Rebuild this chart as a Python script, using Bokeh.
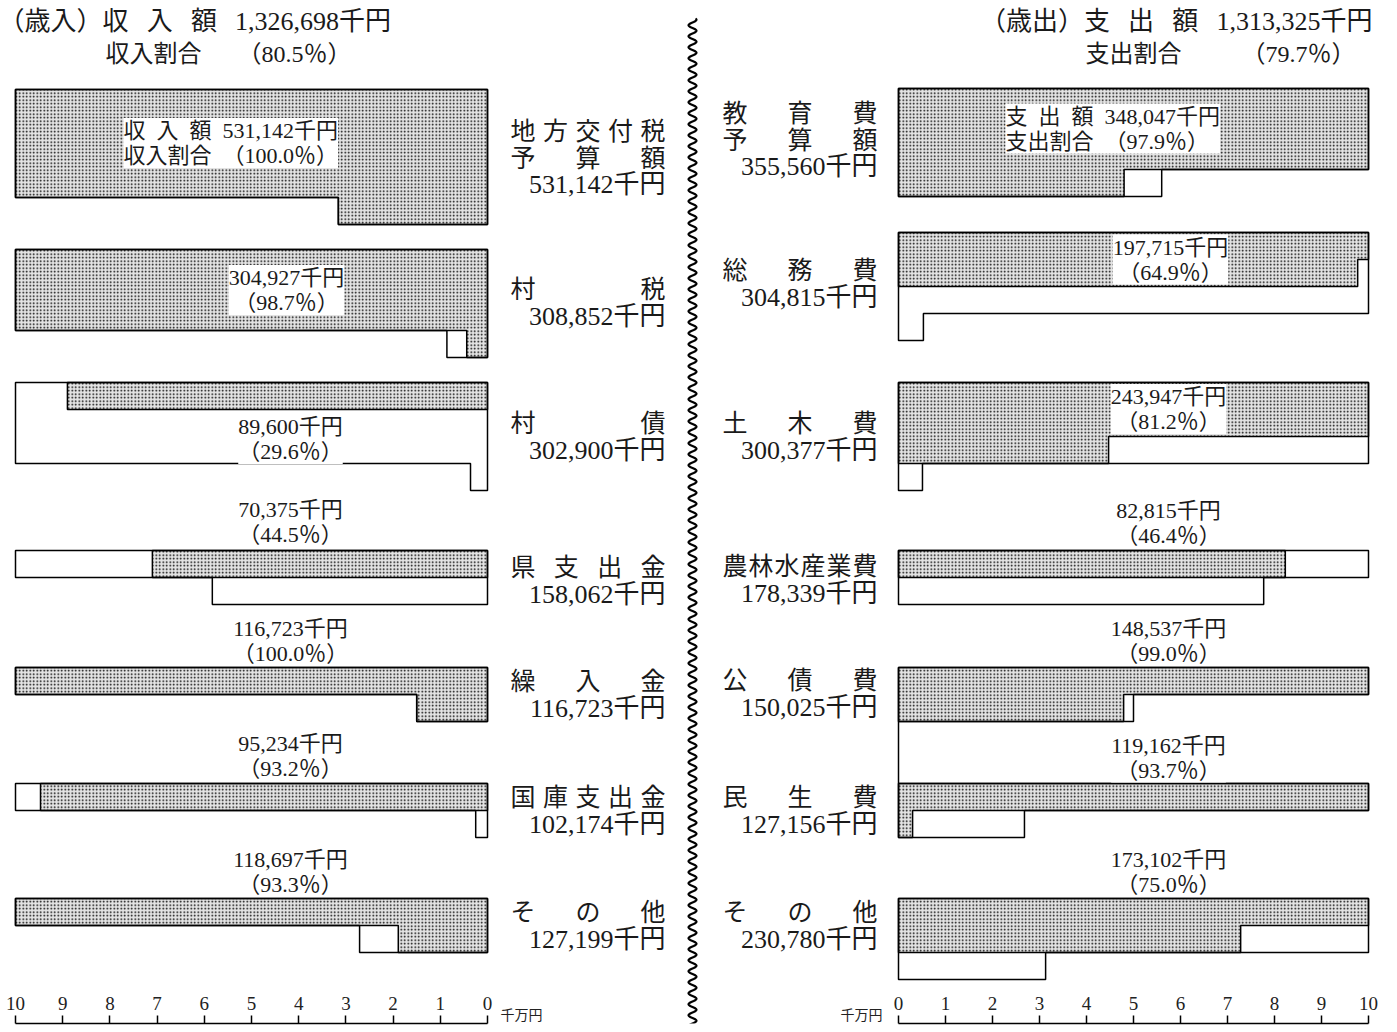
import numpy as np
from bokeh.plotting import figure
from bokeh.models import Range1d, LinearAxis, FixedTicker, ColumnDataSource
from bokeh.layouts import row
from bokeh.embed import file_html
from bokeh.resources import INLINE
from bokeh.core.properties import value

# ---------------- data ----------------
rev_names = ["地方交付税", "村税", "村債", "県支出金", "繰入金", "国庫支出金", "その他"]
rev_budget = [531142, 308852, 302900, 158062, 116723, 102174, 127199]   # 千円 (予算額)
rev_actual = [531142, 304927, 89600, 70375, 116723, 95234, 118697]      # 千円 (収入額)
rev_pct = [100.0, 98.7, 29.6, 44.5, 100.0, 93.2, 93.3]
# bar lengths as drawn in the picture (千万円, rows of 10)
rev_budget_bar = [43.16, 30.86, 30.36, 15.83, 11.5, 10.25, 12.71]
rev_actual_bar = [43.16, 30.44, 8.9, 7.1, 11.5, 9.47, 11.89]

exp_names = ["教育費", "総務費", "土木費", "農林水産業費", "公債費", "民生費", "その他"]
exp_budget = [355560, 304815, 300377, 178339, 150025, 127156, 230780]   # 千円 (予算額)
exp_actual = [348047, 197715, 243947, 82815, 148537, 119162, 173102]    # 千円 (支出額)
exp_pct = [97.9, 64.9, 81.2, 46.4, 99.0, 93.7, 75.0]
exp_budget_bar = [35.6, 30.53, 30.51, 17.77, 15.0, 12.68, 23.13]
exp_actual_bar = [34.8, 19.77, 24.47, 8.23, 14.79, 10.3, 17.28]

rev_total, rev_total_pct = 1326698, 80.5
exp_total, exp_total_pct = 1313325, 79.7
axis_ticks = list(range(0, 11))
axis_unit = "千万円"

# ---------------- layout constants ----------------
H = 1032
FRAME_H = 1023
LW, RW = 698, 699
L_ZERO, R_ZERO = 487, 898          # page x of value 0
L_PX, R_PX = 47.2, 47.0            # px per 千万円
RH = 27                            # row height (px)
FONT = "Liberation Serif, Noto Sans CJK JP"
INK = "#1a1a1a"

def lx(px):
    return (L_ZERO - px) / L_PX

def rx(px):
    return (px - R_ZERO) / R_PX

rev_tops = [89, 249, 382, 550, 667, 783, 898]
exp_tops = [88, 232, 382, 550, 667, 783, 898]
rev_cat_y = [131, 289, 423, 567, 681, 797, 912]
exp_cat_y = [113, 270, 423, 566, 680, 797, 912]
rev_val_pos = [(123, 142.5), (286, 289.5), (290, 438.5), (290, 521.5), (290, 640.5), (290, 755), (290, 871.5)]
exp_val_pos = [(1005, 128), (1170, 259), (1168, 408.5), (1168, 522.5), (1168, 640), (1168, 757), (1168, 871.5)]


def rows_of(v):
    n = int(v // 10)
    r = round(v - 10 * n, 6)
    return n, r


def shape(v, top):
    n, r = rows_of(v)
    y1 = top + n * RH
    y2 = top + (n + 1) * RH
    if n == 0:
        return [0, r, r, 0], [top, top, y2, y2]
    if r == 0:
        return [0, 10, 10, 0], [top, top, y1, y1]
    return [0, 10, 10, r, r, 0], [top, top, y1, y1, y2, y2]


def bottom_of(v, top):
    n, r = rows_of(v)
    return top + (n + (1 if r > 0 else 0)) * RH


def make_fig(width, xr):
    p = figure(width=width, height=H, x_range=xr, y_range=Range1d(FRAME_H, 0),
               output_backend="svg", toolbar_location=None,
               x_axis_location=None, y_axis_location=None,
               min_border_left=0, min_border_right=0, min_border_top=0,
               min_border_bottom=H - FRAME_H)
    p.outline_line_color = None
    p.grid.visible = False
    p.background_fill_color = "white"
    ax = LinearAxis(ticker=FixedTicker(ticks=axis_ticks), bounds=(0, 10))
    ax.major_tick_in = 8
    ax.major_tick_out = 0
    ax.minor_tick_line_color = None
    ax.axis_line_width = 1.5
    ax.major_tick_line_width = 1.5
    ax.major_label_standoff = -27
    ax.major_label_text_font = FONT
    ax.major_label_text_font_size = "19px"
    ax.major_label_text_color = "#222222"
    p.add_layout(ax, "below")
    return p


def draw_side(p, tops, budget_bar, actual_bar):
    sx, sy, bx, by = [], [], [], []
    for v, t in zip(actual_bar, tops):
        xs, ys = shape(v, t)
        sx.append(xs); sy.append(ys)
    for v, t in zip(budget_bar, tops):
        xs, ys = shape(v, t)
        bx.append(xs); by.append(ys)
    p.patches(sx, sy, fill_color="#e4e4e4", hatch_pattern=".", hatch_scale=3.5,
              hatch_color="black", hatch_weight=2.0, line_color="black", line_width=1.5)
    p.patches(bx, by, fill_color=None, line_color="black", line_width=1.5)


def spread_text(conv, text, left_px, right_px, y_px, size, store):
    n = len(text)
    cs = np.linspace(left_px + size / 2, right_px - size / 2, n)
    for ch, c in zip(text, cs):
        store["x"].append(conv(c)); store["y"].append(y_px); store["t"].append(ch)


def category_labels(p, conv, names, budgets, ys, left_px, right_px):
    chars = {"x": [], "y": [], "t": []}
    nums = {"x": [], "y": [], "t": []}
    for i, (nm, b, y) in enumerate(zip(names, budgets, ys)):
        lines = [nm] + (["予算額"] if i == 0 else [])
        for k, ln in enumerate(lines):
            spread_text(conv, ln, left_px, right_px, y + k * 26.5, 25, chars)
        nums["x"].append(conv(right_px)); nums["y"].append(y + len(lines) * 26.5)
        nums["t"].append(f"{b:,}千円")
    p.text("x", "y", "t", source=ColumnDataSource(chars), text_font=value(FONT),
           text_font_size="25px", text_align="center", text_baseline="middle", text_color=INK)
    p.text("x", "y", "t", source=ColumnDataSource(nums), text_font=value(FONT),
           text_font_size="26px", text_align="right", text_baseline="middle", text_color=INK)


def value_labels(p, conv, actuals, pcts, pos, kind):
    first_lbl, second_lbl = ("収\u2002入\u2002額", "収入割合") if kind == "rev" else ("支\u2002出\u2002額", "支出割合")
    for i, (a, pc, (xp, yp)) in enumerate(zip(actuals, pcts, pos)):
        if i == 0:
            txt = f"{first_lbl}\u2002{a:,}千円\n{second_lbl}\u2002（{pc:.1f}％）"
            align = "left"
        else:
            txt = f"{a:,}千円\n（{pc:.1f}％）"
            align = "center"
        p.text(x=[conv(xp)], y=[yp], text=[txt], text_font=value(FONT), text_font_size="22px",
               text_align=align, text_baseline="middle", text_line_height=1.0,
               text_color=INK, background_fill_color="white")


def title(p, conv, x_px, y_px, txt, align, size="26px"):
    p.text(x=[conv(x_px)], y=[y_px], text=[txt], text_font=value(FONT), text_font_size=size,
           text_align=align, text_baseline="middle", text_color=INK)


SP = "\u2002\u2009"

# ---------------- left (歳入) ----------------
pl = make_fig(LW, Range1d(lx(0), lx(LW)))
draw_side(pl, rev_tops, rev_budget_bar, rev_actual_bar)
category_labels(pl, lx, rev_names, rev_budget, rev_cat_y, 510, 665)
value_labels(pl, lx, rev_actual, rev_pct, rev_val_pos, "rev")
title(pl, lx, -2, 21, f"（歳入）収{SP}入{SP}額{SP}{rev_total:,}千円", "left")
title(pl, lx, 105, 53, f"収入割合\u3000\u2002（{rev_total_pct:.1f}％）", "left", "24px")
pl.text(x=[lx(500)], y=[1015], text=[axis_unit], text_font=value(FONT), text_font_size="14px",
        text_align="left", text_baseline="middle", text_color="#222222")

# wavy separator
wy = np.arange(18, FRAME_H + 2, 0.5)
wx = lx(692) + (4.0 / L_PX) * np.sin(2 * np.pi * wy / 11.0)
pl.line(wx, wy, line_color="black", line_width=2.2)

# ---------------- right (歳出) ----------------
pr = make_fig(RW, Range1d(rx(LW), rx(LW + RW)))
draw_side(pr, exp_tops, exp_budget_bar, exp_actual_bar)
# the left edge line drawn on from 公債費 down to 民生費
i_k = exp_names.index("公債費")
pr.segment(x0=[0], y0=[bottom_of(exp_budget_bar[i_k], exp_tops[i_k])], x1=[0],
           y1=[exp_tops[i_k + 1]], line_color="black", line_width=1.5)
category_labels(pr, rx, exp_names, exp_budget, exp_cat_y, 722, 877)
value_labels(pr, rx, exp_actual, exp_pct, exp_val_pos, "exp")
title(pr, rx, 1372, 21, f"（歳出）支{SP}出{SP}額{SP}{exp_total:,}千円", "right")
title(pr, rx, 1085, 53, f"支出割合\u3000\u3000\u2002（{exp_total_pct:.1f}％）", "left", "24px")
pr.text(x=[rx(882)], y=[1015], text=[axis_unit], text_font=value(FONT), text_font_size="14px",
        text_align="right", text_baseline="middle", text_color="#222222")

layout = row(pl, pr)
open("out.html", "w").write(file_html(layout, INLINE))
